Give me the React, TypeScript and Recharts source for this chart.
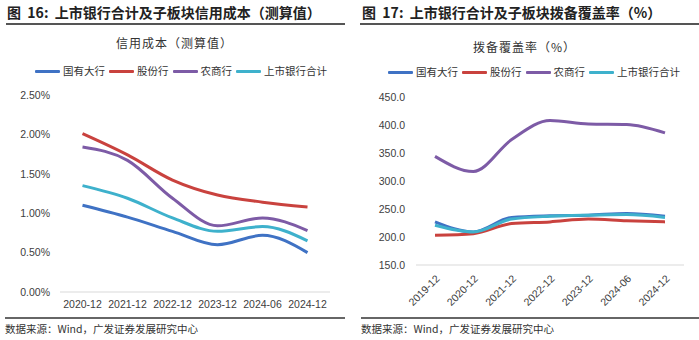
import React from 'react';
import { LineChart, Line, XAxis, YAxis } from 'recharts';

const leftCategories = ['2020-12', '2021-12', '2022-12', '2023-12', '2024-06', '2024-12'];
const leftBig = [1.10, 0.95, 0.77, 0.60, 0.72, 0.50];
const leftJoint = [2.01, 1.74, 1.42, 1.23, 1.14, 1.08];
const leftRural = [1.84, 1.67, 1.19, 0.84, 0.94, 0.78];
const leftTotal = [1.35, 1.19, 0.94, 0.77, 0.83, 0.65];
const leftTicks = [0, 0.5, 1.0, 1.5, 2.0, 2.5];

const rightCategories = ['2019-12', '2020-12', '2021-12', '2022-12', '2023-12', '2024-06', '2024-12'];
const rightBig = [227, 209, 235, 238, 239, 242, 237];
const rightJoint = [203, 206, 224, 227, 232, 229, 227];
const rightRural = [344, 317, 374, 408, 402, 401, 386];
const rightTotal = [221, 209, 232, 237, 239, 240, 235];
const rightTicks = [150, 200, 250, 300, 350, 400, 450];

const seriesNames = ['国有大行', '股份行', '农商行', '上市银行合计'];
const seriesColors = ['#3f72c4', '#c9423e', '#7d5ba6', '#3eb1cc'];

const leftData = leftCategories.map((c, i) => ({
  cat: c,
  s0: leftBig[i],
  s1: leftJoint[i],
  s2: leftRural[i],
  s3: leftTotal[i],
}));
const rightData = rightCategories.map((c, i) => ({
  cat: c,
  s0: rightBig[i],
  s1: rightJoint[i],
  s2: rightRural[i],
  s3: rightTotal[i],
}));

const cjk = '"Noto Sans CJK SC", "Noto Sans", sans-serif';
const latin = '"Liberation Sans", Arial, sans-serif';

const LegendRow: React.FC<{ left: number; top: number }> = ({ left, top }) => (
  <div style={{ position: 'absolute', left, top, display: 'flex', alignItems: 'center', whiteSpace: 'nowrap' }}>
    {seriesNames.map((n, i) => (
      <div key={n} style={{ display: 'flex', alignItems: 'center', marginRight: 4 }}>
        <div style={{ width: 25, height: 3, background: seriesColors[i], borderRadius: 1 }} />
        <span style={{ marginLeft: 3, fontFamily: cjk, fontSize: 10.5, color: '#333', lineHeight: '12px' }}>{n}</span>
      </div>
    ))}
  </div>
);

const Lines = () =>
  [0, 1, 2, 3].map((i) => (
    <Line
      key={i}
      type="monotone"
      dataKey={'s' + i}
      stroke={seriesColors[i]}
      strokeWidth={3}
      dot={false}
      activeDot={false}
      isAnimationActive={false}
    />
  ));

export default function App() {
  return (
    <div style={{ position: 'absolute', left: 0, top: 0, width: 699, height: 340, background: '#fff', overflow: 'hidden' }}>
      {/* Left panel */}
      <div style={{ position: 'absolute', left: 7, top: 3, fontFamily: cjk, fontWeight: 700, fontSize: 14, color: '#222', whiteSpace: 'nowrap', lineHeight: '18px' }}>
        图&nbsp;&nbsp;16:&nbsp;&nbsp;上市银行合计及子板块信用成本（测算值）
      </div>
      <div style={{ position: 'absolute', left: 6, top: 23, width: 339, height: 2, background: '#555' }} />
      <div style={{ position: 'absolute', left: 0, width: 349, top: 35, textAlign: 'center', fontFamily: cjk, fontSize: 12, color: '#333', letterSpacing: 1, lineHeight: '16px' }}>
        信用成本（测算值）
      </div>
      <LegendRow left={35} top={65} />
      <div style={{ position: 'absolute', left: 0, top: 0 }}>
        <LineChart width={349} height={340} data={leftData} margin={{ top: 95, right: 19, bottom: 28, left: 0 }}>
          <XAxis
            dataKey="cat"
            height={20}
            padding={{ left: 22.5, right: 22.5 }}
            tickLine={false}
            tickSize={0}
            tickMargin={9}
            axisLine={{ stroke: '#d9d9d9', strokeWidth: 1 }}
            tick={{ fontSize: 10.5, fill: '#404040', fontFamily: latin }}
            interval={0}
          />
          <YAxis
            width={60}
            domain={[0, 2.5]}
            ticks={leftTicks}
            tickFormatter={(v: number) => v.toFixed(2) + '%'}
            axisLine={false}
            tickLine={false}
            tickSize={0}
            tickMargin={10}
            tick={{ fontSize: 10.5, fill: '#404040', fontFamily: latin }}
          />
          {Lines()}
        </LineChart>
      </div>
      <div style={{ position: 'absolute', left: 5, top: 317, width: 340, height: 1.5, background: '#666' }} />
      <div style={{ position: 'absolute', left: 5, top: 322, fontFamily: cjk, fontSize: 10.5, color: '#333', whiteSpace: 'nowrap', lineHeight: '14px' }}>
        数据来源：Wind，广发证券发展研究中心
      </div>

      {/* Right panel */}
      <div style={{ position: 'absolute', left: 362, top: 3, fontFamily: cjk, fontWeight: 700, fontSize: 14, color: '#222', whiteSpace: 'nowrap', lineHeight: '18px' }}>
        图&nbsp;&nbsp;17:&nbsp;&nbsp;上市银行合计及子板块拨备覆盖率（%）
      </div>
      <div style={{ position: 'absolute', left: 360, top: 23, width: 339, height: 2, background: '#555' }} />
      <div style={{ position: 'absolute', left: 350, width: 349, top: 39, textAlign: 'center', fontFamily: cjk, fontSize: 12, color: '#333', letterSpacing: 1, lineHeight: '16px' }}>
        拨备覆盖率（%）
      </div>
      <LegendRow left={388} top={66} />
      <div style={{ position: 'absolute', left: 350, top: 0 }}>
        <LineChart width={349} height={340} data={rightData} margin={{ top: 97, right: 15, bottom: 15, left: 0 }}>
          <XAxis
            dataKey="cat"
            height={60}
            padding={{ left: 19, right: 19 }}
            tickLine={false}
            tickSize={0}
            tickMargin={9}
            angle={-45}
            textAnchor="end"
            axisLine={{ stroke: '#d9d9d9', strokeWidth: 1 }}
            tick={{ fontSize: 10.5, fill: '#404040', fontFamily: latin }}
            interval={0}
          />
          <YAxis
            width={66}
            domain={[150, 450]}
            ticks={rightTicks}
            tickFormatter={(v: number) => v.toFixed(1)}
            axisLine={false}
            tickLine={false}
            tickSize={0}
            tickMargin={11}
            tick={{ fontSize: 10.5, fill: '#404040', fontFamily: latin }}
          />
          {Lines()}
        </LineChart>
      </div>
      <div style={{ position: 'absolute', left: 361, top: 317, width: 338, height: 1.5, background: '#666' }} />
      <div style={{ position: 'absolute', left: 361, top: 322, fontFamily: cjk, fontSize: 10.5, color: '#333', whiteSpace: 'nowrap', lineHeight: '14px' }}>
        数据来源：Wind，广发证券发展研究中心
      </div>
    </div>
  );
}
